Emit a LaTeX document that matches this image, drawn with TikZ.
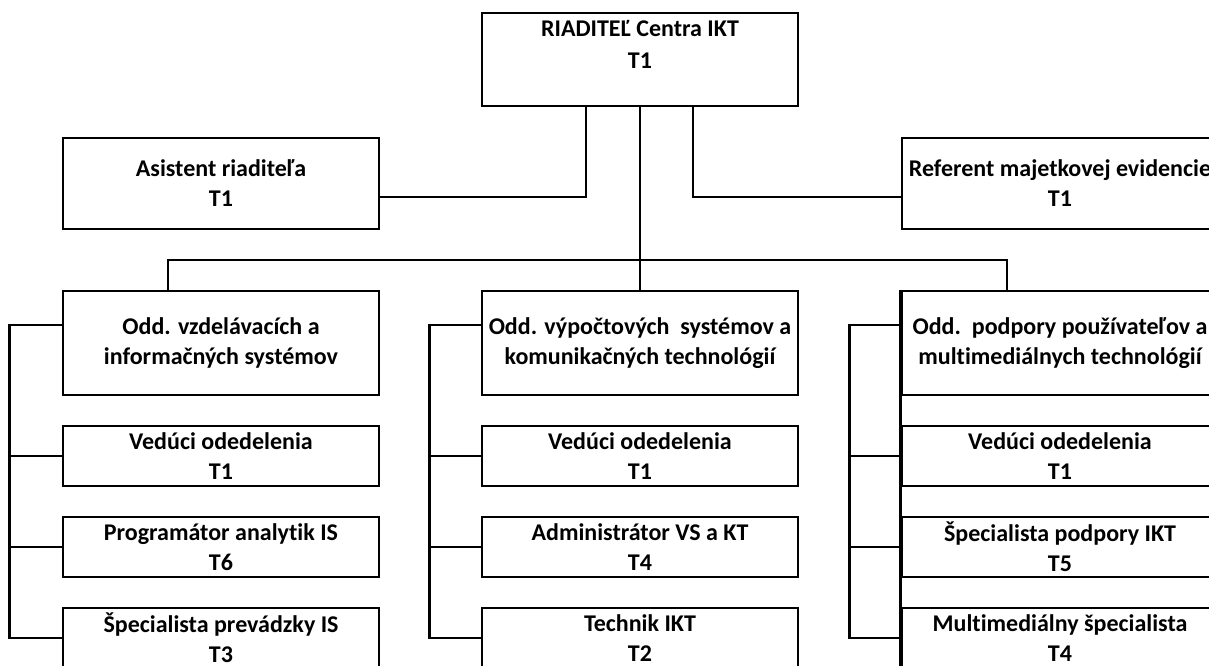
\documentclass[tikz,border=0pt]{standalone}
\usepackage{fontspec}
\setmainfont{Carlito}[Ligatures=NoCommon]
\usetikzlibrary{calc}

\begin{document}
\begin{tikzpicture}[x=0.75pt, y=-0.75pt,
    box/.style={draw, line width=2.1pt, minimum width=237pt, inner sep=0pt,
        align=center, font=\fontsize{18}{22.5}\selectfont\bfseries},
    head/.style={box, minimum height=69.75pt},
    side/.style={box, minimum height=68.25pt},
    dept/.style={box, minimum height=78pt},
    job/.style={box, minimum height=45pt},
    conn/.style={line width=2.1pt}]
    \useasboundingbox (0,0) rectangle (1209,665);
    \clip (0,0) rectangle (1209,665);
    % top level
    \node[head] (riad) at (640,59.5) {RIADITEĽ Centra IKT\\[2pt]T1\\\mbox{}};
    \node[side] (asist) at (221,183.5) {Asistent riaditeľa\\T1};
    \node[side] (ref) at (1060,183.5) {Referent majetkovej evidencie\\T1};
    % departments
    \node[dept] (vzdel) at (221,343) {Odd. vzdelávacích a\\informačných systémov};
    \node[dept] (vypoc) at (640,343) {Odd. výpočtových\ \ systémov a\\komunikačných technológií};
    \node[dept] (podp) at (1060,343) {Odd.\ \ podpory používateľov a\\multimediálnych technológií};
    % left column
    \node[job] (ved1) at (221,456) {Vedúci odedelenia\\T1};
    \node[job] (prog) at (221,547) {Programátor analytik IS\\T6};
    \node[job] (spec1) at (221,638) {Špecialista prevádzky IS\\T3};
    % middle column
    \node[job] (ved2) at (640,456) {Vedúci odedelenia\\T1};
    \node[job] (adm) at (640,547) {Administrátor VS a KT\\T4};
    \node[job] (tech) at (640,638) {Technik IKT\\T2};
    % right column
    \node[job] (ved3) at (1060,456) {Vedúci odedelenia\\T1};
    \node[job] (spec2) at (1060,547) {Špecialista podpory IKT\\T5};
    \node[job] (mult) at (1060,638) {Multimediálny špecialista\\T4};
    \draw[conn] (podp.north west) -- (mult.south west);

    % connectors
    \draw[conn] ($(riad.south)+(-54,0)$) |- ($(asist.east)+(0,13.5)$);
    \draw[conn] ($(riad.south)+(53,0)$) |- ($(ref.west)+(0,13.5)$);
    \draw[conn] (riad.south) -- (vypoc.north);
    \coordinate (bus) at (640,260);
    \draw[conn] ($(vzdel.north)+(-53,0)$) |- (bus) -| ($(podp.north)+(-53,0)$);

    \draw[conn] ($(vzdel.west)+(0,-18)$) -- ++(-52,0) |- (spec1.west);
    \draw[conn] (ved1.west) -- ++(-52,0);
    \draw[conn] (prog.west) -- ++(-52,0);
    \draw[conn] ($(vypoc.west)+(0,-18)$) -- ++(-51,0) |- (tech.west);
    \draw[conn] (ved2.west) -- ++(-51,0);
    \draw[conn] (adm.west) -- ++(-51,0);
    \draw[conn] ($(podp.west)+(0,-18)$) -- ++(-51,0) |- (mult.west);
    \draw[conn] (ved3.west) -- ++(-51,0);
    \draw[conn] (spec2.west) -- ++(-51,0);
\end{tikzpicture}
\end{document}
